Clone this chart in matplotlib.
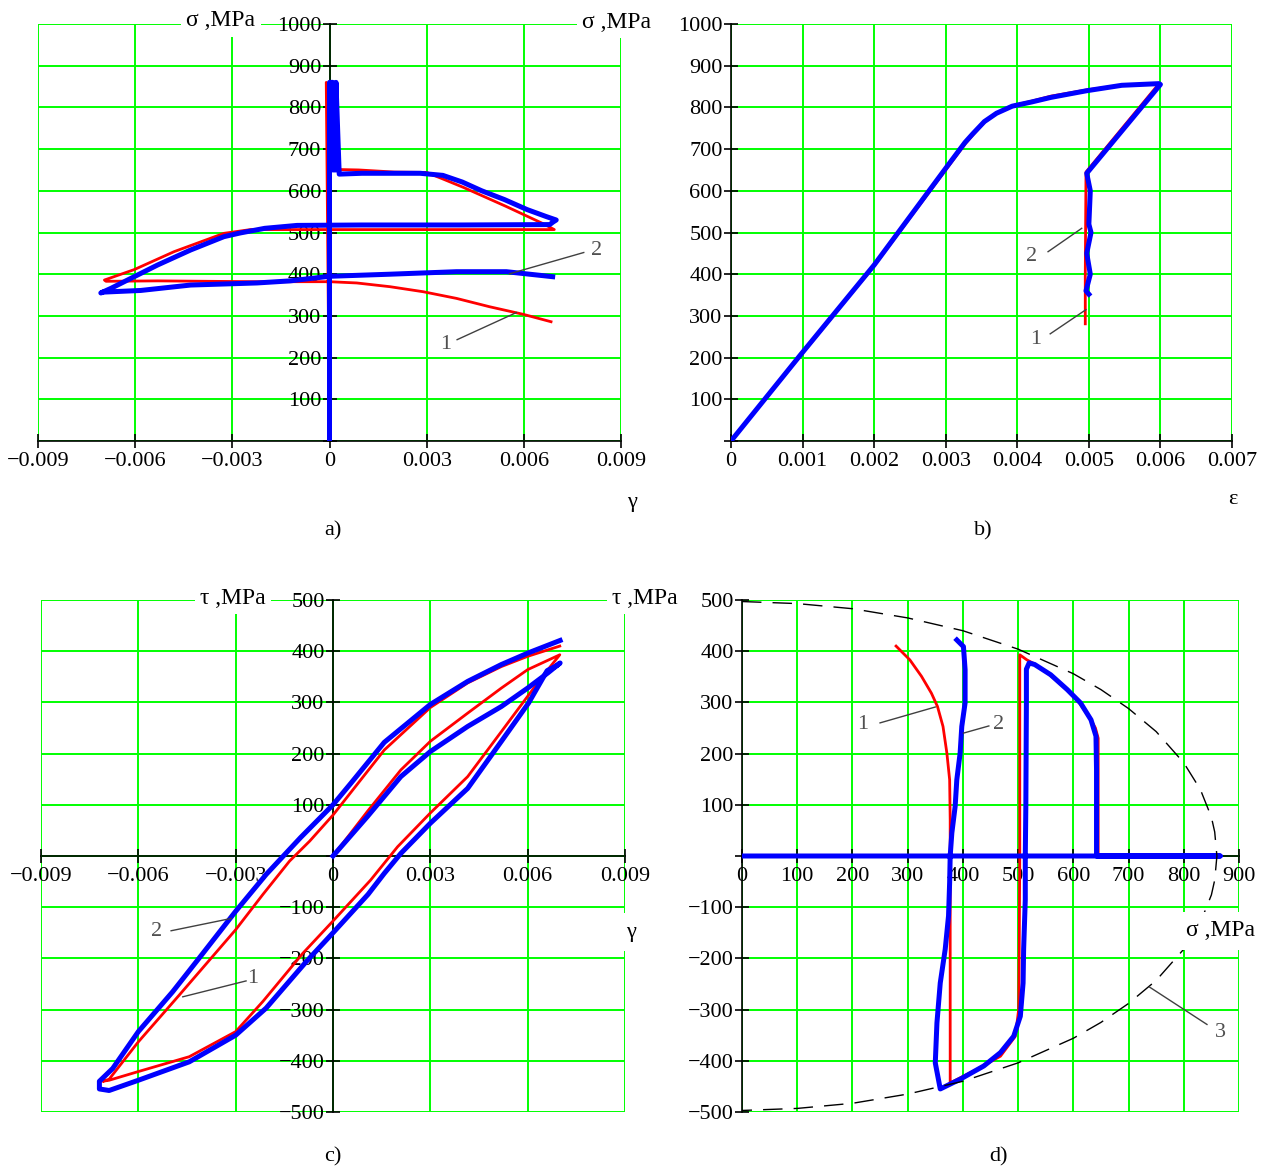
import matplotlib
matplotlib.use('Agg')
import matplotlib.pyplot as plt

plt.rcParams['font.family'] = ['Liberation Serif', 'DejaVu Serif']

# ---------------- data ----------------
# panel a: sigma vs gamma
a_blue_g = [0, 0, 0.0001, 0.0001, 0.0002, 0.0002, 0.0003, 0.0010, 0.0020, 0.0028,
            0.0035, 0.0041, 0.0047, 0.0054, 0.0061, 0.0067, 0.0070, 0.0069, 0.0068, 0.0040,
            0.0010, -0.0010, -0.0020, -0.00275, -0.00326, -0.00429, -0.00531, -0.00603,
            -0.00675, -0.00706, -0.0070, -0.00583, -0.00429, -0.00224, -0.00121, 0, 0.00187,
            0.00392, 0.00546, 0.00689]
a_blue_s = [0, 860, 860, 650, 650, 860, 640, 642, 642, 642,
            637, 621, 600, 579, 555, 538, 530, 525, 519, 518,
            518, 517, 510, 499, 490, 458, 422, 394,
            366, 355, 357, 361, 374, 379, 384, 395, 400,
            406, 406, 394]
a_red_g = [0, -0.0001, 0.0002, 0.0003, 0.0009, 0.0020, 0.0030, 0.00348, 0.00414, 0.00544,
           0.0066, 0.00694, 0.0040, 0.0010, -0.0010, -0.0020, -0.00244, -0.00326, -0.0048,
           -0.00603, -0.00695, -0.0069, -0.00531, -0.00224, 0, 0.00084, 0.00187, 0.00289,
           0.00392, 0.00494, 0.00597, 0.00684]
a_red_s = [0, 860, 650, 651, 650, 645, 644, 629, 608, 563,
           521, 507, 507, 507, 507, 507, 507, 498, 454,
           411, 386, 383, 384, 382, 382, 379, 370, 358,
           342, 322, 304, 286]

# panel b: sigma vs epsilon
b_blue_e = [0, 0.000973, 0.002, 0.003, 0.00327, 0.00338, 0.00354, 0.00371, 0.00393, 0.0042,
            0.00447, 0.00497, 0.00546, 0.00598, 0.00600, 0.00497, 0.00502, 0.00500, 0.00503,
            0.00497, 0.00502, 0.00496, 0.00500]
b_blue_s = [0, 207, 422, 654, 716, 737, 766, 786, 803, 813,
            824, 840, 853, 857, 855, 642, 600, 520, 500,
            450, 400, 360, 352]
b_red_e = [0, 0.000973, 0.002, 0.003, 0.00327, 0.00338, 0.00354, 0.00371, 0.00393, 0.0042,
           0.00447, 0.00497, 0.00546, 0.00598, 0.00496, 0.00495, 0.00495]
b_red_s = [0, 205, 420, 650, 712, 734, 764, 786, 804, 815,
           827, 842, 853, 857, 645, 400, 281]

# panel c: tau vs gamma
c_blue_g = [0, 0.00106, 0.00209, 0.003, 0.00415, 0.00519, 0.006, 0.00663, 0.0070, 0.0069,
            0.0066, 0.00603, 0.00519, 0.00415, 0.003, 0.00209, 0.00158, 0.00108, 0, -0.00082,
            -0.00206, -0.003, -0.00443, -0.006, -0.0069, -0.0072, -0.0072, -0.00679, -0.006,
            -0.00494, -0.00412, -0.003, -0.00206, -0.001, 0, 0.00055, 0.00158, 0.003,
            0.00415, 0.00519, 0.00603, 0.0070]
c_blue_t = [0, 77, 155, 204, 253, 292, 328, 358, 377, 372,
            362, 299, 224, 132, 64, 5, -34, -75, -150, -206,
            -297, -350, -402, -438, -458, -455, -440, -415, -343,
            -265, -199, -108, -36, 36, 100, 142, 222, 296,
            341, 374, 397, 421]
c_red_g = [0, 0.00106, 0.00209, 0.003, 0.00415, 0.00519, 0.006, 0.00699, 0.0066, 0.006,
           0.00519, 0.00415, 0.003, 0.00199, 0.00116, 0, -0.00093, -0.00216, -0.003, -0.00443,
           -0.006, -0.0069, -0.0071, -0.0069, -0.006, -0.00473, -0.003, -0.00216, -0.00134,
           -0.00072, 0, 0.00158, 0.003, 0.00415, 0.00519, 0.006, 0.00699]
c_red_t = [0, 87, 168, 224, 279, 328, 364, 393, 362, 312,
           243, 155, 84, 18, -47, -127, -190, -284, -343, -392,
           -421, -438, -440, -436, -363, -271, -144, -75, -10,
           29, 80, 207, 290, 338, 370, 390, 410]

# panel d: tau vs sigma
d_blue_s = [0, 430, 866, 642, 642, 642, 641, 632, 613, 589, 559, 530, 520, 515, 515, 514, 513, 513,
            510, 509, 504, 492, 468, 438, 395, 359, 350, 353, 359, 368, 374, 376, 377, 380,
            386, 389, 395, 398, 404, 404, 401, 389]
d_blue_t = [0, 0, 0, 0, 71, 169, 234, 266, 299, 325, 354, 374, 377, 365, 300, 100, 0, -85,
            -182, -248, -313, -352, -384, -410, -436, -455, -404, -326, -248, -182, -117, -52, 0, 45,
            97, 149, 201, 253, 299, 364, 409, 422]
d_red_s = [0, 866, 645, 645, 645, 640, 630, 610, 585, 555, 530, 516, 503, 503, 503, 502, 501,
           495, 468, 425, 377, 377, 377, 377, 376, 371, 364, 354, 343, 325, 304, 279]
d_red_t = [0, 0, 0, 100, 230, 250, 270, 300, 328, 356, 375, 383, 393, 200, 0, -182, -300,
           -352, -391, -417, -443, -200, 0, 71, 149, 201, 253, 292, 318, 351, 383, 410]
# curve 3 (dashed limit ellipse)
e_s = [0, 100, 200, 300, 400, 500, 600, 650, 700, 750, 800, 830, 850, 856, 860,
       856, 850, 830, 800, 750, 700, 650, 600, 500, 400, 300, 200, 100, 0]
e_t = [497, 493, 483, 465, 440, 404, 356, 325, 288, 243, 182, 130, 76, 47, 0,
       -47, -76, -130, -182, -243, -288, -325, -356, -404, -440, -465, -483, -493, -497]

# ticks
g_ticks = [-0.009, -0.006, -0.003, 0, 0.003, 0.006, 0.009]
g_labels = ['\u22120.009', '\u22120.006', '\u22120.003', '0', '0.003', '0.006', '0.009']
s_ticks = list(range(0, 1001, 100))
s_labels = [''] + [str(v) for v in range(100, 1001, 100)]
e_ticks = [0, 0.001, 0.002, 0.003, 0.004, 0.005, 0.006, 0.007]
e_labels = ['0', '0.001', '0.002', '0.003', '0.004', '0.005', '0.006', '0.007']
t_ticks = list(range(-500, 501, 100))
t_labels = [('\u2212' + str(-v)) if v < 0 else ('' if v == 0 else str(v)) for v in t_ticks]
sd_ticks = list(range(0, 901, 100))
sd_labels = [str(v) for v in sd_ticks]

# ---------------- figure ----------------
W, H = 1274, 1169
fig = plt.figure(figsize=(W / 100, H / 100), dpi=100)

GREEN = '#00ff00'
BLUE = '#0000ff'
RED = '#ff0000'
FS = 16
LEAD = '#404040'


def rect(l, t, r, b):
    return [l / W, 1 - b / H, (r - l) / W, (b - t) / H]


def setup(ax, xlim, ylim, xt, xl, yt, yl, xaxis_y, yaxis_x):
    ax.set_xlim(*xlim)
    ax.set_ylim(*ylim)
    ax.set_xticks(xt)
    ax.set_xticklabels(xl)
    ax.set_yticks(yt)
    ax.set_yticklabels(yl)
    ax.set_axisbelow(True)
    ax.grid(True, color=GREEN, lw=1.4)
    for ln in ax.get_xgridlines() + ax.get_ygridlines():
        ln.set_clip_on(False)
    ax.spines['top'].set_visible(False)
    ax.spines['right'].set_visible(False)
    ax.spines['left'].set_position(('data', yaxis_x))
    ax.spines['bottom'].set_position(('data', xaxis_y))
    for s in ('left', 'bottom'):
        ax.spines[s].set_linewidth(1.2)
    ax.tick_params(axis='both', direction='inout', length=10, width=1.2,
                   labelsize=FS, colors='black')
    ax.tick_params(axis='x', pad=3)
    ax.tick_params(axis='y', pad=1)
    ax.patch.set_alpha(0)


def ftext(px, py, s, **kw):
    kw.setdefault('fontsize', FS)
    fig.text(px / W, 1 - py / H, s, ha='center', va='center', zorder=10, **kw)


def label(ax, txt, tx, ty, lx, ly):
    ax.plot(lx, ly, color=LEAD, lw=1.0, zorder=4, clip_on=False)
    ax.text(tx, ty, txt, color='#505050', fontsize=FS, ha='center', va='center', zorder=4)


WB = dict(facecolor='white', edgecolor='none', pad=4)
FL = 17

# ---- panel a ----
axa = fig.add_axes(rect(38, 24, 621, 441))
setup(axa, (-0.009, 0.009), (0, 1000), g_ticks, g_labels, s_ticks, s_labels, 0, 0)
axa.plot(a_red_g, a_red_s, color=RED, lw=2.0, zorder=3, solid_joinstyle='round')
axa.plot(a_blue_g, a_blue_s, color=BLUE, lw=3.6, zorder=3.1, solid_joinstyle='round')
label(axa, '2', 0.00826, 457, [0.00785, 0.00556], [452, 401])
label(axa, '1', 0.0036, 231, [0.00394, 0.00577], [243, 308])
ftext(221, 21, '\u03c3 ,MPa', fontsize=FL, bbox=WB)
ftext(617, 22, '\u03c3 ,MPa', fontsize=FL, bbox=WB)
ftext(632, 503, '\u03b3')
ftext(333, 531, 'a)')

# ---- panel b ----
axb = fig.add_axes(rect(731, 24, 1232, 441))
setup(axb, (0, 0.007), (0, 1000), e_ticks, e_labels, s_ticks, s_labels, 0, 0)
axb.plot(b_red_e, b_red_s, color=RED, lw=2.0, zorder=3, solid_joinstyle='round')
axb.plot(b_blue_e, b_blue_s, color=BLUE, lw=3.6, zorder=3.1, solid_joinstyle='round')
label(axb, '2', 0.004206, 442, [0.00443, 0.0049], [454, 510])
label(axb, '1', 0.00426, 243, [0.00446, 0.00496], [257, 315])
ftext(1233, 500, '\u03b5')
ftext(983, 531, 'b)')

# ---- panel c ----
axc = fig.add_axes(rect(41, 600, 625, 1112))
setup(axc, (-0.009, 0.009), (-500, 500), g_ticks, g_labels, t_ticks, t_labels, 0, 0)
axc.plot(c_red_g, c_red_t, color=RED, lw=2.0, zorder=3, solid_joinstyle='round')
axc.plot(c_blue_g, c_blue_t, color=BLUE, lw=3.6, zorder=3.1, solid_joinstyle='round')
label(axc, '2', -0.00545, -147, [-0.00499, -0.00314], [-146, -122])
label(axc, '1', -0.00247, -239, [-0.00268, -0.00463], [-244, -275])
ftext(233, 598, '\u03c4 ,MPa', fontsize=FL, bbox=WB)
ftext(645, 598, '\u03c4 ,MPa', fontsize=FL, bbox=WB)
ftext(631, 932, '\u03b3', bbox=dict(facecolor='white', edgecolor='none', pad=7))
ftext(333, 1157, 'c)')

# ---- panel d ----
axd = fig.add_axes(rect(742, 600, 1239, 1112))
setup(axd, (0, 900), (-500, 500), sd_ticks, sd_labels, t_ticks, t_labels, 0, 0)
axd.plot(e_s, e_t, color='black', lw=1.0, dashes=(14, 8), zorder=3.2)
axd.plot(d_red_s, d_red_t, color=RED, lw=2.0, zorder=3, solid_joinstyle='round')
axd.plot(d_blue_s, d_blue_t, color=BLUE, lw=3.6, zorder=3.1, solid_joinstyle='round')
label(axd, '1', 219, 256, [250, 350], [260, 291])
label(axd, '2', 465, 256, [447, 401], [254, 240])
label(axd, '3', 866, -345, [842, 738], [-329, -256])
ftext(1220, 931, '\u03c3 ,MPa', fontsize=FL, bbox=dict(facecolor='white', edgecolor='none', pad=6))
ftext(999, 1157, 'd)')

fig.savefig('out.png', dpi=100, facecolor='white')
